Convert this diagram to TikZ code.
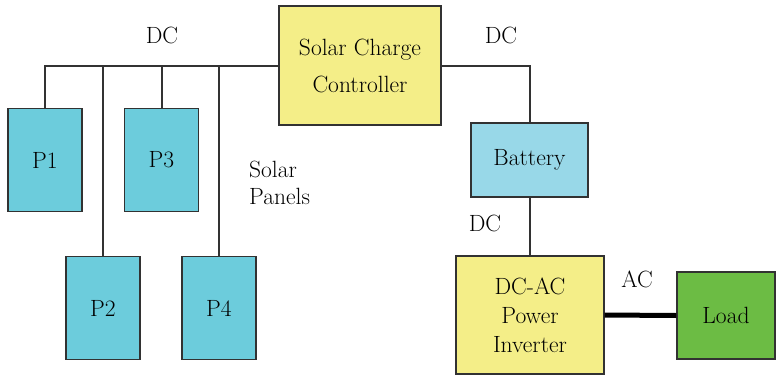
\documentclass[tikz,border=0pt]{standalone}
\usepackage{fontspec}
\usepackage{tikz}
\usetikzlibrary{positioning}
\definecolor{panelblue}{RGB}{108,204,220}
\definecolor{batblue}{RGB}{152,216,232}
\definecolor{ctrlyellow}{RGB}{244,238,136}
\definecolor{loadgreen}{RGB}{108,188,68}
\definecolor{edgegray}{RGB}{50,50,50}

\begin{document}
\begin{tikzpicture}[x=1pt, y=-1pt,
    box/.style = {rectangle, draw=edgegray, line width=1.3pt, align=center,
                  font=\fontsize{23.5}{29}\selectfont, inner sep=0pt},
    panel/.style = {box, fill=panelblue, minimum width=74pt, minimum height=103pt},
    wire/.style = {draw=edgegray, line width=2pt},
    lbl/.style = {font=\fontsize{23.5}{27}\selectfont, inner sep=0pt}]
    \useasboundingbox (0,0) rectangle (776,375);

    \node (p1) [panel] at (45,160) {P1};
    \node (p3) [panel] at (161.5,160) {P3};
    \node (p2) [panel] at (103,308) {P2};
    \node (p4) [panel] at (219,308) {P4};
    \node (ctrl) [box, fill=ctrlyellow, minimum width=162pt, minimum height=119pt,
                  font=\fontsize{23.5}{37}\selectfont] at (360,65.5) {Solar Charge\\Controller};
    \node (bat) [box, fill=batblue, minimum width=117pt, minimum height=74pt] at (529.5,160) {Battery};
    \node (inv) [box, fill=ctrlyellow, minimum width=148pt, minimum height=118pt] at (530,315) {DC-AC\\Power\\Inverter};
    \node (load) [box, fill=loadgreen, minimum width=98pt, minimum height=87pt] at (726,315.5) {Load};

    \node (dcpanels) [lbl] at (162,35) {DC};
    \node (dcbat) [lbl] at (501,35) {DC};
    \node (dcinv) [lbl] at (485,223) {DC};
    \node (ac) [lbl] at (637,279) {AC};
    \node (solar) [lbl, align=left, anchor=west] at (249,183) {Solar\\Panels};

    \draw [wire] (p1.north) |- (ctrl.west);
    \draw [wire] (p2.north) -- (p2.north |- ctrl.west);
    \draw [wire] (p3.north) -- (p3.north |- ctrl.west);
    \draw [wire] (p4.north) -- (p4.north |- ctrl.west);
    \draw [wire] (ctrl.east) -| (bat.north);
    \draw [wire] (bat.south) -- (bat.south |- inv.north);
    \draw [wire, line width=5pt, draw=black] (inv.east) -- (load.west);
\end{tikzpicture}
\end{document}
